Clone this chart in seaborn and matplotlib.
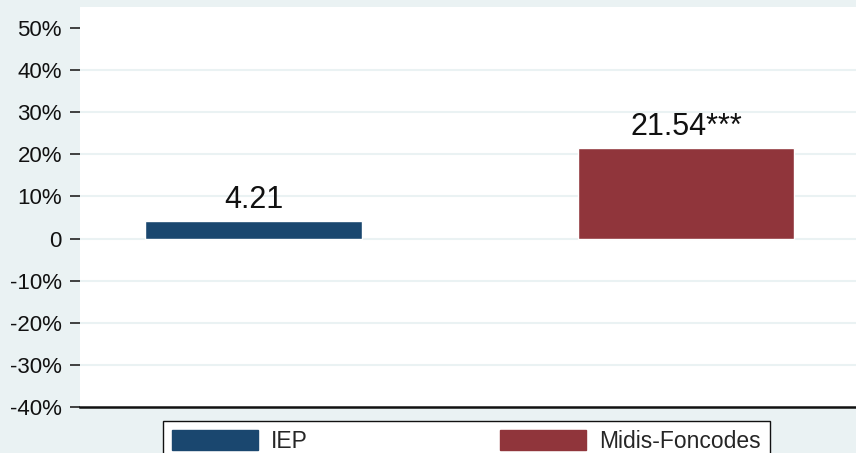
import pandas as pd
import seaborn as sns
import matplotlib.pyplot as plt

# chart data
groups = ['IEP', 'Midis-Foncodes']
values = [4.21, 21.54]
bar_labels = ['4.21', '21.54***']
ytick_values = [50, 40, 30, 20, 10, 0, -10, -20, -30, -40]
ytick_labels = ['50%', '40%', '30%', '20%', '10%', '0', '-10%', '-20%', '-30%', '-40%']

# stata s2color look
BG = '#EAF2F3'
colors = ['#1A476F', '#90353B']

sns.set_style('white')
plt.rcParams['font.family'] = ['Liberation Sans', 'DejaVu Sans']

df = pd.DataFrame({'group': groups, 'value': values})

fig = plt.figure(figsize=(8.56, 4.53), dpi=100, facecolor=BG)
ax = fig.add_axes([80 / 856, 46 / 453, 1 - 80 / 856, 400 / 453])
ax.set_facecolor('white')

sns.barplot(x='group', y='value', hue='group', data=df, palette=colors,
            width=0.5, saturation=1, legend=False, ax=ax)

for container, lab in zip(ax.containers, bar_labels):
    ax.bar_label(container, labels=[lab], padding=4, fontsize=22, color='#111111')

ax.set_xlim(-0.401, 1.393)
ax.set_ylim(-40, 55)
ax.set_yticks(ytick_values)
ax.set_yticklabels(ytick_labels)
ax.set_xticks([])
ax.set(xlabel='', ylabel='')

ax.tick_params(axis='y', length=7, width=1.2, pad=6, labelsize=16,
               color='#222222', labelcolor='#111111', left=True)

# light grid, stata skips the gridlines at the extremes
ax.grid(axis='y', color=BG, linewidth=1.5)
for val, gl in zip(ytick_values, ax.yaxis.get_gridlines()):
    if val in (50, -40):
        gl.set_visible(False)
ax.set_axisbelow(True)

for side in ['top', 'right', 'left']:
    ax.spines[side].set_visible(False)
ax.spines['bottom'].set_color('#111111')
ax.spines['bottom'].set_linewidth(1.8)

# legend at the bottom, partly cut off like in the original
handles = [plt.Rectangle((0, 0), 1, 1, facecolor=c, edgecolor=c) for c in colors]
leg = fig.legend(handles, groups, loc='upper left',
                 bbox_to_anchor=(163 / 856, 1 - 421 / 453),
                 ncol=2, fontsize=16.5, frameon=True, fancybox=False,
                 borderaxespad=0, borderpad=0.39, handlelength=3.75,
                 handleheight=0.92, handletextpad=0.57, columnspacing=8.4)
leg.get_frame().set_edgecolor('#111111')
leg.get_frame().set_linewidth(1.0)
leg.get_frame().set_facecolor('white')
leg.get_frame().set_alpha(1)

fig.savefig('out.png', dpi=100, facecolor=BG)
